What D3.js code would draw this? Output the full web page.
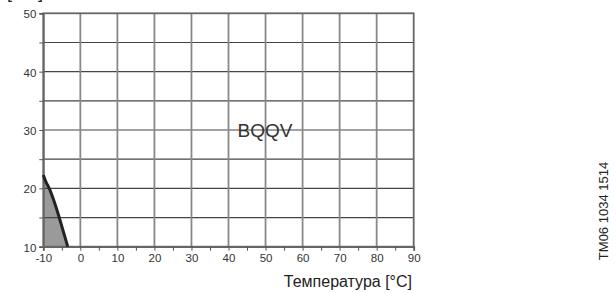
<!DOCTYPE html>
<html lang="ru"><head>
<meta charset="utf-8">
<script src="https://cdn.jsdelivr.net/npm/d3@7"></script>
<style>
body{margin:0;background:#fff;}
text{font-family:Arial,"Liberation Sans",sans-serif;}
</style>
</head>
<body>
<script>
var width = 616, height = 293;
var padding = {top:13.3, bottom:46.3, left:43.3, right:202.3};

var xTicks = [-10,0,10,20,30,40,50,60,70,80,90];
var yTicks = [10,20,30,40,50];
// boundary curve (temperature, value)
var curveT = [-10,-9.2,-8.4,-7,-5.7,-4.5,-3.4];
var curveV = [22.3,21,20,17.6,15,12.4,10];

var svg = d3.select("body").append("svg").attr("width",width).attr("height",height);

var x = d3.scaleLinear().domain([-10,90]).range([padding.left,width-padding.right]);
var y = d3.scaleLinear().domain([10,50]).range([height-padding.bottom,padding.top]);

var pts = curveT.map((t,i)=>[t,curveV[i]]);
var line = d3.line().x(d=>x(d[0])).y(d=>y(d[1]));

// shaded area
var poly = [[-10,10]].concat(pts.slice().reverse());
svg.append("path").attr("d", line(poly) + "Z").attr("fill","#9a9a9a");

// grid
svg.append("g").selectAll("line").data(d3.range(15,50,5)).enter().append("line")
  .attr("x1",x(-10)).attr("x2",x(90)).attr("y1",d=>y(d)).attr("y2",d=>y(d))
  .attr("stroke","#444").attr("stroke-width",1.2);
svg.append("g").selectAll("line").data(xTicks.slice(1,-1)).enter().append("line")
  .attr("x1",d=>x(d)).attr("x2",d=>x(d)).attr("y1",y(10)).attr("y2",y(50))
  .attr("stroke","#888").attr("stroke-width",1.8);

// frame
svg.append("rect").attr("x",x(-10)).attr("y",y(50)).attr("width",x(90)-x(-10)).attr("height",y(10)-y(50))
  .attr("fill","none").attr("stroke","#666").attr("stroke-width",1.8);

// axes
var xAxis = d3.axisBottom(x).tickValues(d3.range(-10,91,5)).tickSize(4)
  .tickFormat(d=>d%10===0?d:"");
var gX = svg.append("g").attr("transform","translate(0,"+y(10)+")").call(xAxis);
gX.select(".domain").attr("stroke","#666").attr("stroke-width",1.8);
gX.selectAll(".tick line").attr("stroke","#555");
gX.selectAll("text").attr("fill","#333").attr("font-size","11.5px");

var yAxis = d3.axisLeft(y).tickValues(d3.range(10,51,5)).tickSize(4)
  .tickFormat(d=>d%10===0?d:"");
var gY = svg.append("g").attr("transform","translate("+x(-10)+",0)").call(yAxis);
gY.select(".domain").attr("stroke","#666").attr("stroke-width",1.8);
gY.selectAll(".tick line").attr("stroke","#555");
gY.selectAll("text").attr("fill","#333").attr("font-size","11.5px").attr("dy","0.4em");

// boundary curve
svg.append("path").attr("d", line.curve(d3.curveMonotoneY)(pts))
  .attr("fill","none").attr("stroke","#222").attr("stroke-width",3);

svg.append("text").attr("x",265).attr("y",137).attr("text-anchor","middle")
  .attr("font-size","19px").attr("fill","#333").text("BQQV");

svg.append("text").attr("x",412).attr("y",287).attr("text-anchor","end")
  .attr("font-size","16px").attr("fill","#222").text("Температура [°C]");

svg.append("text").attr("x",7).attr("y",-2).attr("font-size","18px").attr("fill","#222").text("[bar]");

svg.append("text").attr("transform","translate(608,211) rotate(-90)").attr("text-anchor","middle")
  .attr("font-size","13px").attr("fill","#222").text("TM06 1034 1514");
</script>
</body>
</html>
